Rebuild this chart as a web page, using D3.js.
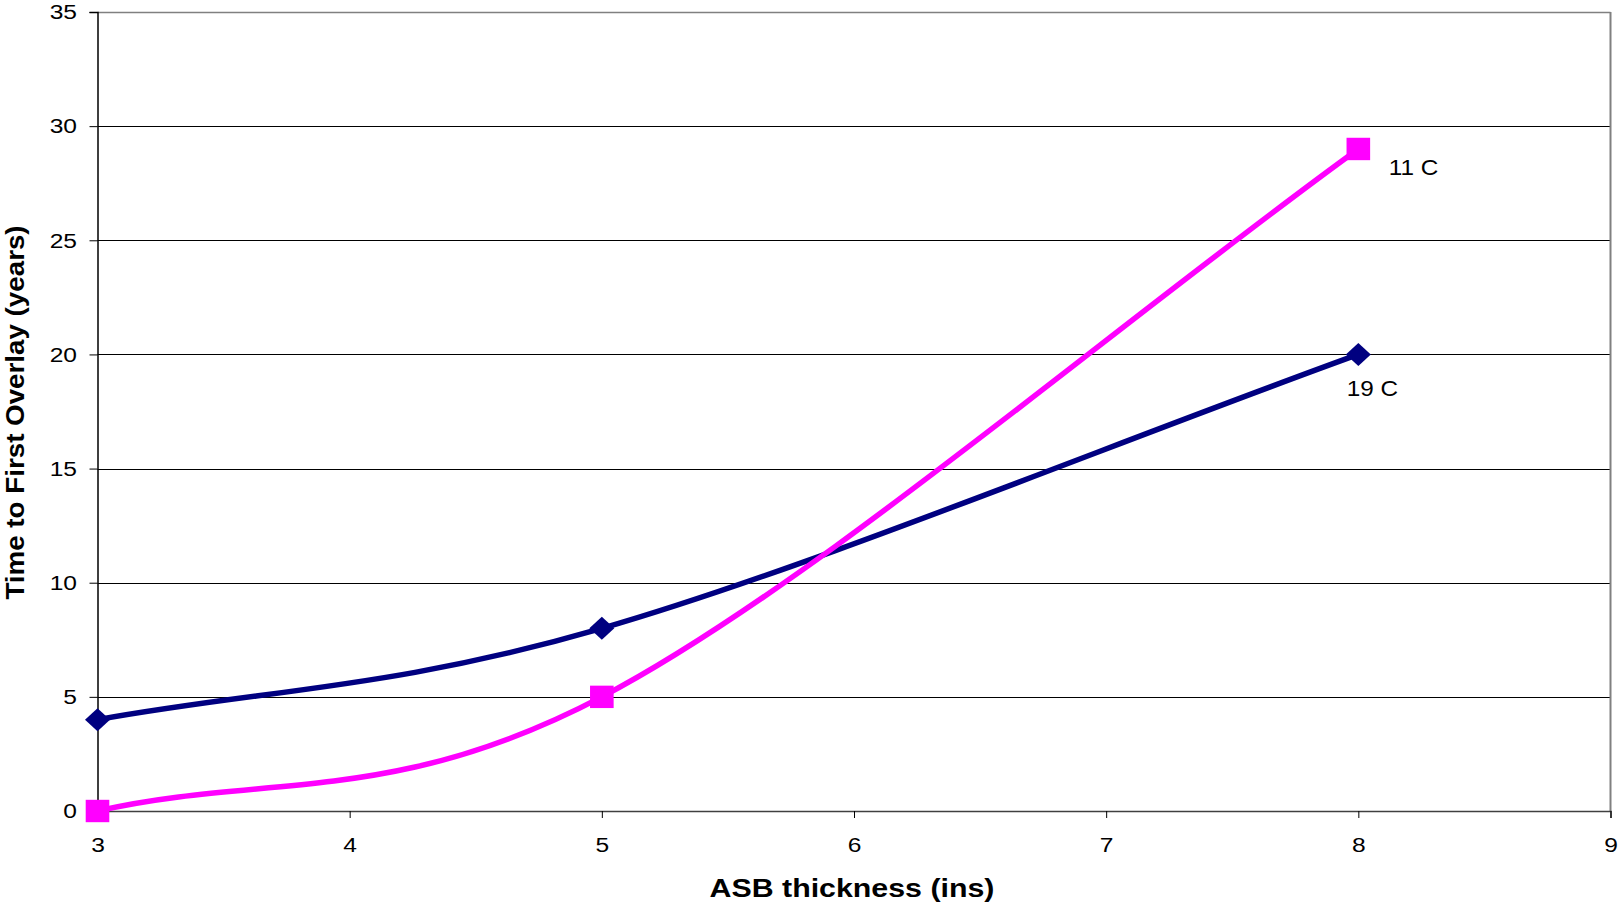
<!DOCTYPE html>
<html><head><meta charset="utf-8">
<script src="https://cdn.jsdelivr.net/npm/d3@7"></script>
<style>
html,body{margin:0;padding:0;background:#fff;}
svg{display:block;font-family:"Liberation Sans",Arial,sans-serif;}
</style></head>
<body>
<svg id="chart" width="1621" height="904"></svg>
<script>
const xTicks = [3,4,5,6,7,8,9];
const yTicks = [0,5,10,15,20,25,30,35];
const thickness = [3,5,8];
const series19 = [4,8,20];
const series11 = [0,5,29];
const seriesNames = ["19 C","11 C"];
const xTitle = "ASB thickness (ins)";
const yTitle = "Time to First Overlay (years)";

const svg = d3.select("#chart");
const m = {left:97.5, right:1610.5, top:12, bottom:811};
const x = d3.scaleLinear().domain([3,9]).range([m.left,m.right]);
const y = d3.scaleLinear().domain([0,35]).range([m.bottom,m.top]);

// Excel-like smoothed curve (Catmull-Rom Bezier with reflected end points)
function curveExcel(context){
  let pts = [];
  return {
    areaStart(){}, areaEnd(){},
    lineStart(){ pts = []; },
    point(px,py){ pts.push([+px,+py]); },
    lineEnd(){
      const n = pts.length;
      if(!n) return;
      context.moveTo(pts[0][0],pts[0][1]);
      const P = i => {
        if(i < 0) return [2*pts[0][0]-pts[1][0], 2*pts[0][1]-pts[1][1]];
        if(i >= n) return [2*pts[n-1][0]-pts[n-2][0], 2*pts[n-1][1]-pts[n-2][1]];
        return pts[i];
      };
      for(let i=0;i<n-1;i++){
        const p0=P(i-1), p1=P(i), p2=P(i+1), p3=P(i+2);
        context.bezierCurveTo(
          p1[0]+(p2[0]-p0[0])/6, p1[1]+(p2[1]-p0[1])/6,
          p2[0]-(p3[0]-p1[0])/6, p2[1]-(p3[1]-p1[1])/6,
          p2[0], p2[1]);
      }
    }
  };
}

// gridlines
svg.append("g").selectAll("line").data(yTicks.filter(d=>d>0 && d<35)).join("line")
  .attr("x1",m.left).attr("x2",m.right)
  .attr("y1",d=>Math.round(y(d))+0.5).attr("y2",d=>Math.round(y(d))+0.5)
  .attr("stroke","#000").attr("stroke-width",1);
// border top/right gray
svg.append("line").attr("x1",m.left).attr("x2",m.right).attr("y1",m.top+0.5).attr("y2",m.top+0.5)
  .attr("stroke","#808080").attr("stroke-width",1.5);
svg.append("line").attr("x1",m.right).attr("x2",m.right).attr("y1",m.top).attr("y2",m.bottom)
  .attr("stroke","#808080").attr("stroke-width",2);

// axes
const yAxis = d3.axisLeft(y).tickValues(yTicks).tickSize(8).tickPadding(12.5).tickFormat(d3.format("d"));
const gy = svg.append("g").attr("transform",`translate(${m.left},0)`).call(yAxis);
const xAxis = d3.axisBottom(x).tickValues(xTicks).tickSize(7).tickPadding(19).tickFormat(d3.format("d"));
const gx = svg.append("g").attr("transform",`translate(0,${m.bottom})`).call(xAxis);
[gx,gy].forEach(g=>{
  g.select(".domain").attr("stroke","#000").attr("stroke-width",1.5);
  g.selectAll(".tick line").attr("stroke","#000");
  g.selectAll(".tick text").attr("font-size",21).attr("fill","#000")
   .attr("font-family","'Liberation Sans',Arial,sans-serif")
   .each(function(){
     const t = d3.select(this);
     const tx = +(t.attr("x")||0);
     t.attr("x",0).attr("transform",`translate(${tx},0) scale(1.17,1)`);
   });
});
gx.select(".domain").attr("stroke","#404040");

// lines
const line = d3.line().x(d=>x(d[0])).y(d=>y(d[1])).curve(curveExcel);
const d19 = thickness.map((t,i)=>[t,series19[i]]);
const d11 = thickness.map((t,i)=>[t,series11[i]]);
svg.append("path").datum(d19).attr("d",line).attr("fill","none").attr("stroke","#000080").attr("stroke-width",5.5);
svg.append("path").datum(d11).attr("d",line).attr("fill","none").attr("stroke","#FF00FF").attr("stroke-width",5.5);

// markers
svg.append("g").selectAll("path").data(d19).join("path")
  .attr("transform",d=>`translate(${x(d[0])},${y(d[1])})`)
  .attr("d","M0,-11.5L12.5,0L0,11.5L-12.5,0Z").attr("fill","#000080");
svg.append("g").selectAll("rect").data(d11).join("rect")
  .attr("x",d=>x(d[0])-11.8).attr("y",d=>y(d[1])-11.2).attr("width",23.6).attr("height",22.4)
  .attr("fill","#FF00FF");

// series labels
svg.append("text").attr("transform",`translate(${x(8)+30.5},${y(29)+26}) scale(1.08,1)`)
  .attr("font-size",22.5).text(seriesNames[1]);
svg.append("text").attr("transform",`translate(${x(8)-11.5},${y(20)+41.5}) scale(1.08,1)`)
  .attr("font-size",22.5).text(seriesNames[0]);

// axis titles
svg.append("text").attr("transform","translate(852,897) scale(1.19,1)").attr("text-anchor","middle")
  .attr("font-size",25.5).attr("font-weight","bold").text(xTitle);
svg.append("text").attr("transform","translate(24,412.5) rotate(-90) scale(1.11,1)").attr("text-anchor","middle")
  .attr("font-size",25).attr("font-weight","bold").text(yTitle);
</script>
</body></html>
